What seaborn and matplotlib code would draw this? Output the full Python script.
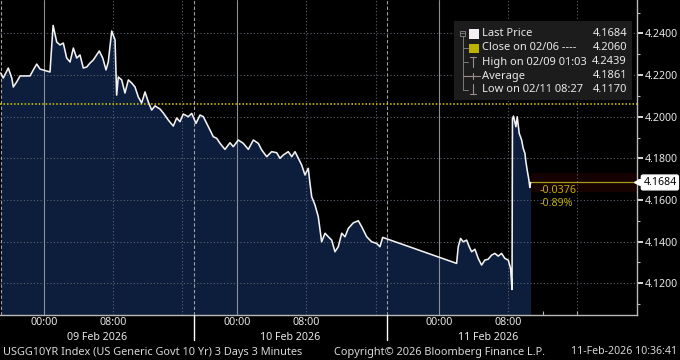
import numpy as np
import pandas as pd
import matplotlib
matplotlib.use("Agg")
import matplotlib.pyplot as plt
import seaborn as sns
from matplotlib.transforms import Affine2D, blended_transform_factory
from matplotlib.patches import Rectangle
from matplotlib.lines import Line2D

# ---------------- data (hours from 09 Feb 2026 00:00 local, yield %) ----------------
feb9_times = [-5.00, -4.71, -4.13, -3.73, -3.55, -3.16, -2.77, -1.62, -1.24, -0.84, -0.46, 0.69,
              1.05, 1.47, 1.85, 2.23, 2.62, 3.01, 3.39, 3.78, 4.16, 4.54, 4.94, 5.32, 5.70, 6.09,
              6.39, 6.79, 7.17, 7.43, 7.83, 8.21, 8.40, 8.59, 8.98, 9.36, 9.75, 10.14, 10.52,
              10.90, 11.29, 11.68, 12.06, 12.45, 12.83, 13.41, 13.79, 14.37, 14.95, 15.34, 15.72,
              16.10, 16.68, 17.08]
feb9_yields = [4.2210, 4.2186, 4.2234, 4.2186, 4.2143, 4.2167, 4.2196, 4.2196, 4.2225, 4.2253,
               4.2229, 4.2215, 4.2439, 4.2359, 4.2345, 4.2354, 4.2282, 4.2263, 4.2330, 4.2282,
               4.2297, 4.2234, 4.2239, 4.2258, 4.2273, 4.2297, 4.2316, 4.2282, 4.2225, 4.2263,
               4.2412, 4.2369, 4.2104, 4.2191, 4.2177, 4.2114, 4.2177, 4.2162, 4.2143, 4.2095,
               4.2066, 4.2119, 4.2071, 4.2032, 4.2052, 4.2037, 4.2018, 4.1984, 4.1955, 4.1994,
               4.1976, 4.2013, 4.2000, 4.2016]
feb10_times = [19.24, 19.70, 20.09, 20.48, 20.86, 21.24, 21.64, 22.02, 22.59, 23.17, 23.55, 24.13,
               24.71, 25.29, 25.87, 26.44, 26.84, 27.42, 27.99, 28.57, 28.95, 29.33, 29.91, 30.31,
               30.69, 31.07, 31.46, 31.84, 32.22, 32.42, 32.62, 33.00, 33.38, 33.77, 34.16, 34.54,
               34.93, 35.31, 35.69, 36.09, 36.47, 36.85, 37.43, 38.01, 38.40, 38.98, 39.55, 40.13,
               40.51, 40.83]
feb10_yields = [4.1968, 4.2008, 4.2000, 4.1968, 4.1936, 4.1904, 4.1896, 4.1872, 4.1843, 4.1875,
                4.1856, 4.1888, 4.1872, 4.1843, 4.1888, 4.1872, 4.1840, 4.1808, 4.1832, 4.1827,
                4.1800, 4.1816, 4.1832, 4.1808, 4.1832, 4.1800, 4.1768, 4.1720, 4.1752, 4.1680,
                4.1615, 4.1576, 4.1519, 4.1399, 4.1440, 4.1423, 4.1407, 4.1351, 4.1375, 4.1440,
                4.1423, 4.1463, 4.1490, 4.1500, 4.1471, 4.1423, 4.1399, 4.1391, 4.1375, 4.1420]
feb11_times = [50.04, 50.23, 50.50, 50.80, 51.20, 51.50, 51.78, 52.16, 52.54, 52.93, 53.31, 53.69,
               54.09, 54.47, 54.85, 55.24, 55.62, 56.01, 56.28, 56.45, 56.50, 56.62, 56.90, 57.05,
               57.28, 57.56, 57.74, 57.94, 58.05, 58.20, 58.40, 58.51, 58.60]
feb11_yields = [4.1295, 4.1375, 4.1415, 4.1399, 4.1407, 4.1375, 4.1351, 4.1363, 4.1319, 4.1287,
                4.1311, 4.1315, 4.1335, 4.1343, 4.1330, 4.1343, 4.1319, 4.1311, 4.1271, 4.1170,
                4.1990, 4.2003, 4.1952, 4.2000, 4.1920, 4.1888, 4.1848, 4.1824, 4.1784, 4.1744,
                4.1696, 4.1660, 4.1684]

prev_close = 4.2060
legend_labels = ["Last Price", "Close on 02/06 ----", "High on 02/09 01:03", "Average", "Low on 02/11 08:27"]
legend_values = ["4.1684", "4.2060", "4.2439", "4.1861", "4.1170"]
y_ticks = [4.12, 4.14, 4.16, 4.18, 4.20, 4.22, 4.24]
session_gaps = [(17 + 20 / 60, 19.0), (41 + 20 / 60, 42.0)]   # no-trading periods (hours)
session_bounds = [(-5.0, 17 + 20 / 60), (19.0, 41 + 20 / 60), (42.0, 65 + 20 / 60)]
session_dates = ["09 Feb 2026", "10 Feb 2026", "11 Feb 2026"]
tick_hours = list(range(-4, 68, 4))
footer_left = "USGG10YR Index (US Generic Govt 10 Yr) 3 Days 3 Minutes"
footer_mid = "Copyright\u00a9 2026 Bloomberg Finance L.P."
footer_right = "11-Feb-2026 10:36:41"

# ---------------- styling ----------------
BG = "black"
FILL = "#0d1e3c"
LINE = "#f2f2f2"
GRID = "#5a6270"
YEL = "#e0d200"
OLIVE = "#bfb000"
TXT = "#e8e8e8"

sns.set_theme(style="dark", rc={"axes.facecolor": BG, "figure.facecolor": BG})
plt.rcParams["font.family"] = ["Noto Sans", "DejaVu Sans"]


def to_axis(t):
    t = np.asarray(t, dtype=float)
    c = t.copy()
    for s, e in session_gaps:
        c = np.where(t >= e, c - (e - s), c)
    return c


df = pd.DataFrame({
    "t": np.concatenate([feb9_times, feb10_times, feb11_times]),
    "y": np.concatenate([feb9_yields, feb10_yields, feb11_yields]),
})
df["x"] = to_axis(df["t"])

W, H = 680, 360
fig = plt.figure(figsize=(W / 100, H / 100), dpi=100, facecolor=BG)
ax = fig.add_axes([0, 45 / H, 637 / W, 315 / H])
ax.set_facecolor(BG)

YLIM = (4.1047, 4.2561)
XLIM = (float(to_axis(-5.09)), float(to_axis(70.9)))

# area + line
ax.fill_between(df["x"], df["y"], YLIM[0] - 0.01, color=FILL, lw=0, zorder=1)
sns.lineplot(data=df, x="x", y="y", ax=ax, color=LINE, lw=1.15, zorder=5, sort=False)

# horizontal grid
for yv in y_ticks:
    ax.axhline(yv, color=GRID, ls=(0, (1, 2)), lw=0.8, zorder=2)

# vertical grid
for h in tick_hours:
    hh = h % 24
    xc = float(to_axis(h))
    if hh == 0:
        ax.axvline(xc, color="#8a8f98", lw=0.8, zorder=2)
    elif hh in (8, 16):
        ax.axvline(xc, color=GRID, ls=(0, (1, 2)), lw=0.8, zorder=2)

# session separators
trans_xa = blended_transform_factory(ax.transData, ax.transAxes)
for i, (s, e) in enumerate(session_bounds):
    xc = float(to_axis(s))
    ax.plot([xc, xc], [0, 1], transform=trans_xa, color="#a0a0a0", ls=(0, (3, 2)), lw=0.8, zorder=2)
    if i > 0:
        ax.plot([xc, xc], [0, -25 / 315], transform=trans_xa, color="white", lw=1.0,
                clip_on=False, zorder=6)

# previous close line
ax.axhline(prev_close, color=YEL, ls=(0, (1, 1.3)), lw=1.1, zorder=3)

# last price line + change text
last_x = df["x"].iloc[-1]
last_y = df["y"].iloc[-1]
ax.fill_between([last_x, XLIM[1]], last_y - 0.0045, last_y + 0.0045, color="#170202", lw=0, zorder=1)
ax.plot([last_x, XLIM[1]], [last_y, last_y], color="#a89a1c", lw=0.9, zorder=4)
chg = last_y - prev_close
pct = chg / prev_close * 100
ax.annotate(f"{chg:.4f}", xy=(last_x, last_y), xytext=(6.5, -6), textcoords="offset points",
            color=OLIVE, fontsize=7.7, ha="left", va="center", zorder=6)
ax.annotate(f"{pct:.2f}%", xy=(last_x, last_y), xytext=(6.5, -15.5), textcoords="offset points",
            color=OLIVE, fontsize=7.7, ha="left", va="center", zorder=6)

# axes limits / spines
ax.set_xlim(*XLIM)
ax.set_ylim(*YLIM)
ax.set_xlabel("")
ax.set_ylabel("")
for side in ("top", "left"):
    ax.spines[side].set_visible(False)
for side in ("right", "bottom"):
    ax.spines[side].set_visible(True)
    ax.spines[side].set_color("#b8b8b8")
    ax.spines[side].set_linewidth(1.0)
ax.grid(False)

# y axis on the right
ax.yaxis.tick_right()
ax.set_yticks(y_ticks)
ax.set_yticklabels([f"{v:.4f}" for v in y_ticks])
ax.set_yticks(np.arange(4.11, 4.2561, 0.01), minor=True)
ax.tick_params(axis="y", which="major", direction="out", length=4, width=1.2, color="white",
               labelcolor=TXT, labelsize=7.6, pad=1.5, right=True, left=False)
ax.tick_params(axis="y", which="minor", direction="out", length=2.5, width=0.8, color="#bbbbbb",
               right=True, left=False)

# last price tag
trans_ay = blended_transform_factory(ax.transAxes, ax.transData)
ax.annotate(legend_values[0], xy=(1, last_y), xycoords=trans_ay, xytext=(4.5, 0),
            textcoords="offset points", ha="left", va="center", fontsize=7.6, color="black",
            bbox=dict(boxstyle="round,pad=0.18,rounding_size=0.15", fc="white", ec="white"),
            annotation_clip=False, zorder=10)
ax.plot([1.0], [last_y], transform=trans_ay, marker="<", ms=4, color="white", clip_on=False, zorder=10)

# x axis ticks
xt = [float(to_axis(h)) for h in tick_hours]
xl = [f"{h % 24:02d}:00" if h % 24 in (0, 8) else "" for h in tick_hours]
ax.set_xticks(xt)
ax.set_xticklabels(xl)
ax.tick_params(axis="x", which="major", direction="in", length=3, width=0.8, color="#b8b8b8",
               labelcolor=TXT, labelsize=7.7, pad=1.5, bottom=True, top=False)
for (s, e), lab in zip(session_bounds, session_dates):
    xc = (float(to_axis(s)) + float(to_axis(e))) / 2
    ax.text(xc, -23 / 315, lab, transform=trans_xa, ha="center", va="center",
            fontsize=7.7, color=TXT, clip_on=False)

# ---------------- legend box (pixel coordinates) ----------------
pix = Affine2D().scale(1 / W, -1 / H).translate(0, 1) + fig.transFigure
fig.add_artist(Rectangle((454, 21), 178, 79, transform=pix, fc="#1c1c1c", ec="none", zorder=20))
rows = [33.5, 48, 62, 76, 89.5]
for yy, lab, val in zip(rows, legend_labels, legend_values):
    fig.text(482, yy, lab, transform=pix, ha="left", va="center", fontsize=8, color=TXT, zorder=22)
    fig.text(627, yy, val, transform=pix, ha="right", va="center", fontsize=8, color=TXT, zorder=22)
tree = "#7a7a7a"
fig.add_artist(Rectangle((460, 30.5), 5, 5, transform=pix, fc="none", ec=tree, lw=0.7, zorder=21))
fig.add_artist(Line2D([461, 464], [33, 33], transform=pix, color=tree, lw=0.7, zorder=21))
fig.add_artist(Line2D([462.5, 462.5], [36, 89.5], transform=pix, color=tree, lw=0.7, zorder=21))
for yy in rows[1:]:
    fig.add_artist(Line2D([462.5, 468], [yy, yy], transform=pix, color=tree, lw=0.7, zorder=21))
fig.add_artist(Rectangle((468.5, 29), 10, 9.5, transform=pix, fc="#f4eef4", ec="none", zorder=21))
fig.add_artist(Rectangle((468.5, 43.5), 10, 9.5, transform=pix, fc="#bdb200", ec="none", zorder=21))
icon = "#a08c8c"
fig.add_artist(Line2D([470, 476], [57, 57], transform=pix, color=icon, lw=0.8, zorder=21))
fig.add_artist(Line2D([473, 473], [57, 67], transform=pix, color=icon, lw=0.8, zorder=21))
fig.add_artist(Line2D([462.5, 480], [76, 76], transform=pix, color=icon, lw=0.8, zorder=21))
fig.add_artist(Line2D([473, 473], [73, 79], transform=pix, color=icon, lw=0.8, zorder=21))
fig.add_artist(Line2D([470, 476], [93.5, 93.5], transform=pix, color=icon, lw=0.8, zorder=21))
fig.add_artist(Line2D([473, 473], [84, 93.5], transform=pix, color=icon, lw=0.8, zorder=21))

# ---------------- footer ----------------
fig.text(3, 352, footer_left, transform=pix, ha="left", va="center", fontsize=7.9, color="#d8d8d8")
fig.text(334, 352, footer_mid, transform=pix, ha="left", va="center", fontsize=7.9, color="#d8d8d8")
fig.text(677, 352, footer_right, transform=pix, ha="right", va="center", fontsize=7.6, color="#d8d8d8")

fig.savefig("out.png", dpi=100, facecolor=BG)
